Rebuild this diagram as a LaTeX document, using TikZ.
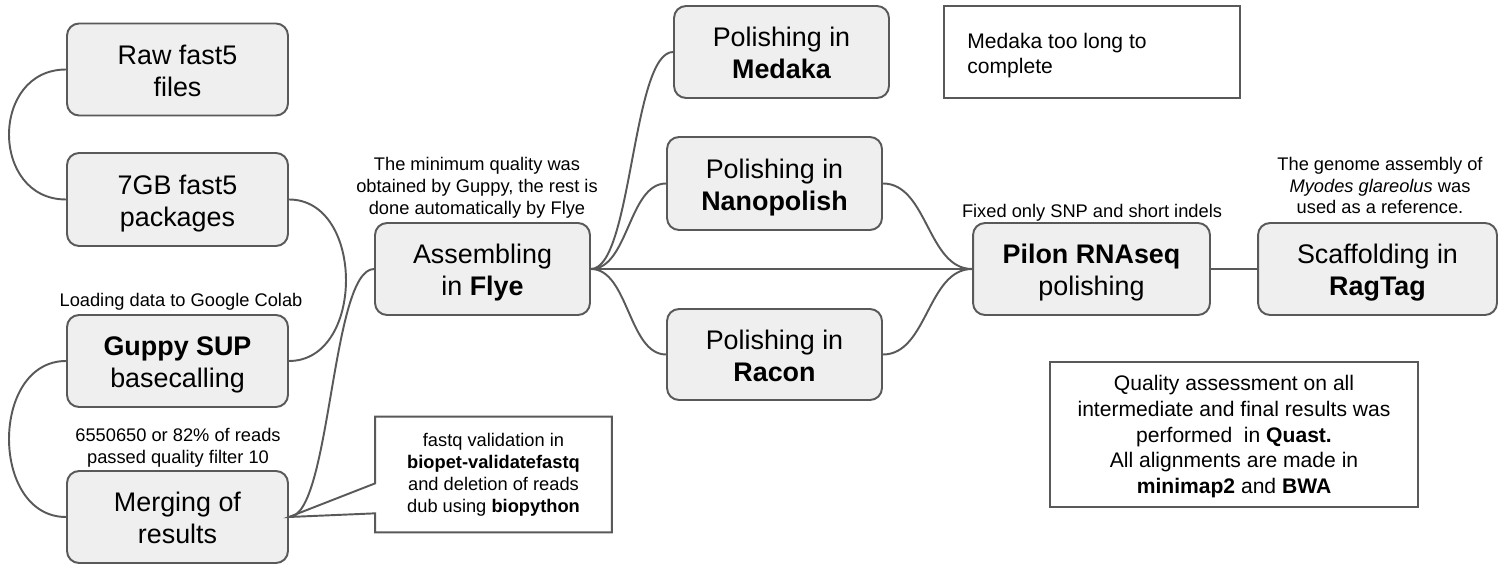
\documentclass[tikz,border=0pt]{standalone}
\usepackage{fontspec}
\setmainfont{Liberation Sans}
\usetikzlibrary{calc}
\definecolor{linec}{HTML}{595959}
\definecolor{boxfill}{HTML}{EFEFEF}
\newcommand{\bigf}{\fontsize{15.3}{18.1}\selectfont}
\newcommand{\smallf}{\fontsize{10.4}{12.5}\selectfont}
\newcommand{\medf}{\fontsize{12}{14.6}\selectfont}
\begin{document}
\begin{tikzpicture}[x=0.02cm,y=-0.02cm,
  box/.style={draw=linec, fill=boxfill, line width=1.1pt, rounded corners=0.24cm, inner sep=0pt},
  btext/.style={align=center, font=\bigf, inner sep=0pt, yshift=-2.3pt,
    execute at end node={\rule[-3.3pt]{0pt}{3.3pt}}},
  note/.style={draw=linec, fill=white, line width=1.1pt, inner sep=0pt},
  lbl/.style={align=center, font=\smallf, inner sep=0pt},
  conn/.style={draw=linec, line width=1.1pt}]
\useasboundingbox (0,0) rectangle (1500,567);

% main boxes
\node[box, minimum width=4.42cm, minimum height=1.84cm] (raw) at (177.5,69.5) {};
\node[btext] (rawt) at (raw) {Raw fast5\\files};
\node[box, minimum width=4.42cm, minimum height=1.86cm] (pack) at (177.5,199.5) {};
\node[btext] (packt) at (pack) {7GB fast5\\packages};
\node[box, minimum width=4.42cm, minimum height=1.84cm] (guppy) at (177.5,361) {};
\node[btext] (guppyt) at (guppy) {\textbf{Guppy SUP}\\basecalling};
\node[box, minimum width=4.42cm, minimum height=1.84cm] (merge) at (177.5,517) {};
\node[btext] (merget) at (merge) {Merging of\\results};
\node[box, minimum width=4.30cm, minimum height=1.84cm] (asm) at (482.5,269) {};
\node[btext] (asmt) at (asm) {Assembling\\in \textbf{Flye}};
\node[box, minimum width=4.30cm, minimum height=1.84cm] (med) at (781.5,52) {};
\node[btext] (medt) at (med) {Polishing in\\\textbf{Medaka}};
\node[box, minimum width=4.30cm, minimum height=1.86cm] (nano) at (774.5,183.5) {};
\node[btext] (nanot) at (nano) {Polishing in\\\textbf{Nanopolish}};
\node[box, minimum width=4.30cm, minimum height=1.82cm] (racon) at (774.5,354.5) {};
\node[btext] (racont) at (racon) {Polishing in\\\textbf{Racon}};
\node[box, minimum width=4.74cm, minimum height=1.84cm] (pilon) at (1091.5,269) {};
\node[btext] (pilont) at (pilon) {\textbf{Pilon RNAseq}\\polishing};
\node[box, minimum width=4.78cm, minimum height=1.84cm] (scaf) at (1377.5,269) {};
\node[btext] (scaft) at (scaf) {Scaffolding in\\\textbf{RagTag}};

% notes
\node[note, minimum width=5.92cm, minimum height=1.84cm] (mednote) at (1092,52) {};
\node[align=left, anchor=west, font=\medf, inner sep=0pt] (medtext) at (967,55.5) {Medaka too long to\\complete};
\node[note, minimum width=7.36cm, minimum height=2.90cm] (qual) at (1234,434.5) {};
\node[align=center, font=\medf, inner sep=0pt, yshift=-1.2pt] (qualt) at (qual)
  {Quality assessment on all\\intermediate and final results was\\performed\ \ in \textbf{Quast.}\\All alignments are made in\\\textbf{minimap2} and \textbf{BWA}};

% callout box
\node[inner sep=0pt, minimum width=4.72cm, minimum height=2.30cm] (fastq) at (493.5,474.5) {};
\draw[draw=linec, fill=white, line width=1.1pt]
  (fastq.north west) -- (fastq.north east) -- (fastq.south east) -- (fastq.south west)
  -- ($(fastq.south west)+(0,-19)$) -- (merge.east) -- ($(fastq.south west)+(0,-49)$) -- cycle;
\node[lbl] (fastqtext) at (493.5,474.5) {fastq validation in\\\textbf{biopet-validatefastq}\\and deletion of reads\\dub using \textbf{biopython}};

% labels
\node[lbl] (loadlbl) at (181,302) {Loading data to Google Colab};
\node[lbl] (passlbl) at (178,448) {6550650 or 82\% of reads\\passed quality filter 10};
\node[lbl] (minlbl) at (477,187.5) {The minimum quality was\\obtained by Guppy, the rest is\\done automatically by Flye};
\node[lbl] (fixlbl) at (1092,213) {Fixed only SNP and short indels};
\node[lbl] (genlbl) at (1380,185.5) {The genome assembly of\\\textit{Myodes glareolus} was\\used as a reference.};

% connectors
\draw[conn] (raw.west) .. controls (-10,69.5) and (-10,199.5) .. (pack.west);
\draw[conn] (pack.east) .. controls (365,199.5) and (365,361) .. (guppy.east);
\draw[conn] (guppy.west) .. controls (-10,361) and (-10,517) .. (merge.west);
\draw[conn] (merge.east) .. controls (331,517) and (331,269) .. (asm.west);
\draw[conn] (asm.east) .. controls (632,269) and (632,52) .. (med.west);
\draw[conn] (asm.east) .. controls (628.5,269) and (628.5,183.5) .. (nano.west);
\draw[conn] (asm.east) .. controls (628.5,269) and (628.5,354.5) .. (racon.west);
\draw[conn] (asm.east) -- (pilon.west);
\draw[conn] (nano.east) .. controls (927.5,183.5) and (927.5,269) .. (pilon.west);
\draw[conn] (racon.east) .. controls (927.5,354.5) and (927.5,269) .. (pilon.west);
\draw[conn] (pilon.east) -- (scaf.west);
\end{tikzpicture}
\end{document}
